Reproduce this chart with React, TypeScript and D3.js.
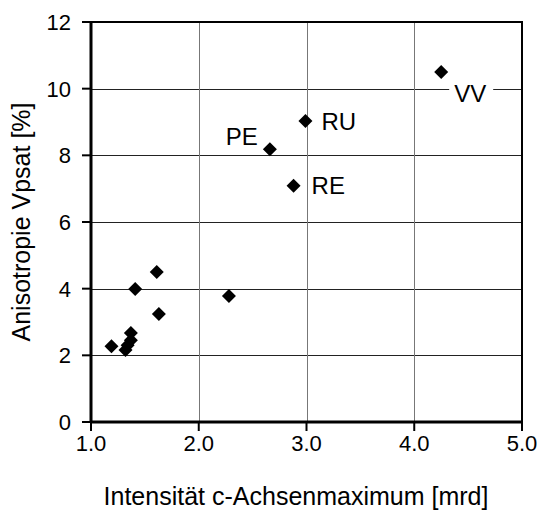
import React from "react";
import * as d3 from "d3";

const xValues = [4.25, 2.99, 2.66, 2.88, 1.61, 1.41, 2.28, 1.63, 1.37, 1.37, 1.34, 1.32, 1.19];
const yValues = [10.5, 9.03, 8.18, 7.09, 4.5, 3.99, 3.78, 3.24, 2.67, 2.45, 2.3, 2.16, 2.27];
const pointLabels = ["VV", "RU", "PE", "RE", "", "", "", "", "", "", "", "", ""];
const xTicks = [1, 2, 3, 4, 5];
const yTicks = [0, 2, 4, 6, 8, 10, 12];
const xTitle = "Intensität c-Achsenmaximum [mrd]";
const yTitle = "Anisotropie Vpsat [%]";

// label placement (pixel offsets from the marker)
const labelOffsets: Record<string, { dx: number; dy: number; anchor: string; bg: boolean }> = {
  VV: { dx: 13, dy: 30, anchor: "start", bg: true },
  RU: { dx: 16, dy: 9, anchor: "start", bg: false },
  PE: { dx: -12, dy: -4, anchor: "end", bg: false },
  RE: { dx: 18, dy: 8, anchor: "start", bg: false },
};

const W = 542;
const H = 513;
const left = 91;
const right = 522;
const top = 22;
const bottom = 422;
const FONT = "'Liberation Sans', Arial, Helvetica, sans-serif";

export default function App() {
  const x = d3.scaleLinear().domain([1, 5]).range([left, right]);
  const y = d3.scaleLinear().domain([0, 12]).range([bottom, top]);
  const diamond = d3.symbol(d3.symbolSquare, 98)()!;

  return (
    <svg width={W} height={H} style={{ position: "absolute", left: 0, top: 0, background: "#fff" }}>
      <rect x={0} y={0} width={W} height={H} fill="#fff" />
      {/* gridlines */}
      {yTicks.slice(1, -1).map((t) => (
        <line key={"gy" + t} x1={left} x2={right} y1={Math.round(y(t)) + 0.5} y2={Math.round(y(t)) + 0.5} stroke="#222" strokeWidth={1} />
      ))}
      {xTicks.slice(1, -1).map((t) => (
        <line key={"gx" + t} y1={top} y2={bottom} x1={Math.round(x(t)) + 0.5} x2={Math.round(x(t)) + 0.5} stroke="#777" strokeWidth={1} />
      ))}
      {/* plot border top/right */}
      <line x1={left} x2={right + 1} y1={top} y2={top} stroke="#000" strokeWidth={2} />
      <line x1={right} x2={right} y1={top} y2={bottom} stroke="#000" strokeWidth={2} />
      {/* axes */}
      <line x1={left} x2={left} y1={top - 1} y2={bottom + 1} stroke="#000" strokeWidth={3} />
      <line x1={left - 1} x2={right + 1} y1={bottom} y2={bottom} stroke="#000" strokeWidth={3} />
      {/* y ticks */}
      {yTicks.map((t) => (
        <g key={"yt" + t}>
          <line x1={left - 9} x2={left} y1={y(t)} y2={y(t)} stroke="#000" strokeWidth={2} />
          <text x={71} y={y(t)} dy="0.36em" textAnchor="end" fontFamily={FONT} fontSize={22} fill="#000">
            {t}
          </text>
        </g>
      ))}
      {/* x ticks */}
      {xTicks.map((t) => (
        <g key={"xt" + t}>
          <line x1={x(t)} x2={x(t)} y1={bottom} y2={bottom + 9} stroke="#000" strokeWidth={2} />
          <text x={x(t)} y={451} textAnchor="middle" fontFamily={FONT} fontSize={22} fill="#000">
            {d3.format(".1f")(t)}
          </text>
        </g>
      ))}
      {/* points */}
      {xValues.map((xv, i) => (
        <path key={"p" + i} d={diamond} transform={`translate(${x(xv)},${y(yValues[i])}) rotate(45)`} fill="#000" />
      ))}
      {/* labels */}
      {xValues.map((xv, i) => {
        const lab = pointLabels[i];
        if (!lab) return null;
        const o = labelOffsets[lab];
        const px = x(xv) + o.dx;
        const py = y(yValues[i]) + o.dy;
        return (
          <g key={"l" + i}>
            {o.bg && <rect x={px - 5} y={py - 20} width={44} height={24} fill="#fff" />}
            <text x={px} y={py} textAnchor={o.anchor} fontFamily={FONT} fontSize={24} fill="#000">
              {lab}
            </text>
          </g>
        );
      })}
      {/* titles */}
      <text x={296} y={505} textAnchor="middle" fontFamily={FONT} fontSize={25} fill="#000">
        {xTitle}
      </text>
      <text
        transform={`translate(30,${(top + bottom) / 2}) rotate(-90)`}
        textAnchor="middle"
        fontFamily={FONT}
        fontSize={25}
        fill="#000"
      >
        {yTitle}
      </text>
    </svg>
  );
}
